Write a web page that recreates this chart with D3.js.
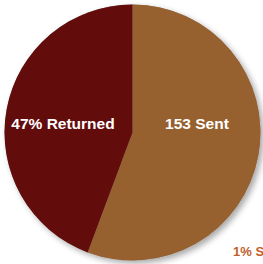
<!DOCTYPE html>
<html><head><meta charset="utf-8">
<script src="https://cdn.jsdelivr.net/npm/d3@7"></script>
<style>html,body{margin:0;padding:0;background:#fff;overflow:hidden}</style>
</head><body>
<svg id="c" width="263" height="264"></svg>
<script>
const categories = ["Sent", "Returned"];
const values = [55.7, 44.3];
const sliceLabels = ["153 Sent", "47% Returned"];
const colors = ["#97602F", "#620C0C"];
const outsideLabel = "1% S";

const svg = d3.select("#c");
const cx = 132.5, cy = 132.5, r = 128;

const defs = svg.append("defs");
const f = defs.append("filter").attr("id","sh").attr("x","-20%").attr("y","-20%").attr("width","140%").attr("height","140%");
f.append("feGaussianBlur").attr("in","SourceAlpha").attr("stdDeviation",3);
f.append("feOffset").attr("dx",3).attr("dy",3).attr("result","b");
f.append("feComponentTransfer").append("feFuncA").attr("type","linear").attr("slope",0.35);
const m = f.append("feMerge"); m.append("feMergeNode"); m.append("feMergeNode").attr("in","SourceGraphic");

const g = svg.append("g").attr("transform",`translate(${cx},${cy})`);
const pie = d3.pie().sort(null).value(d => d.v);
const data = pie(categories.map((c,i)=>({c, v: values[i], label: sliceLabels[i], color: colors[i]})));
const arc = d3.arc().innerRadius(0).outerRadius(r);

g.append("circle").attr("r", r).attr("fill","#999").attr("filter","url(#sh)");
g.selectAll("path.s").data(data).join("path").attr("class","s")
  .attr("d", arc).attr("fill", d => d.data.color);

const labelPos = [[64.5, -9], [-67.5, -9]];
g.selectAll("text.l").data(data).join("text").attr("class","l")
  .attr("x", (d,i) => labelPos[i][0]).attr("y", (d,i)=> labelPos[i][1])
  .attr("text-anchor","middle")
  .attr("font-family","'Liberation Sans', Arial, sans-serif")
  .attr("font-weight","bold").attr("font-size", 15.5)
  .attr("fill","#fff")
  .attr("x", (d,i) => i===0 ? 64.5 : -69.5)
  .attr("y", -4)
  .text(d => d.data.label);

svg.append("text").attr("x",233).attr("y",256)
  .attr("font-family","'Liberation Sans', Arial, sans-serif")
  .attr("font-weight","bold").attr("font-size",13)
  .attr("fill","#C0612B").text(outsideLabel);
</script>
</body></html>
